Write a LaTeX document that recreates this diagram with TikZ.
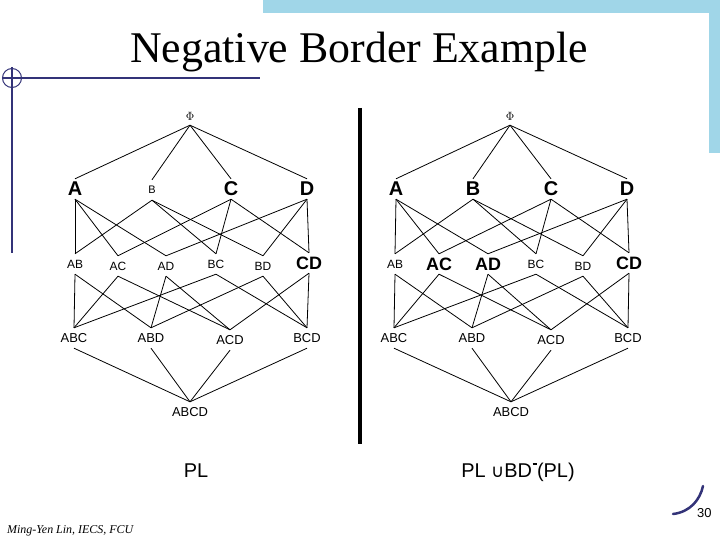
\documentclass[tikz,border=0pt]{standalone}
\usepackage{fontspec}
\setmainfont{Liberation Serif}
\newfontfamily\arial{Liberation Sans}
\newfontfamily\dejavu{DejaVu Sans}
\definecolor{bandblue}{RGB}{160,214,232}
\definecolor{darkblue}{RGB}{51,51,120}
\tikzset{
  lbl/.style={inner sep=0pt, minimum height=20bp, font=\arial\fontsize{12}{13}\selectfont},
  lblb/.style={inner sep=0pt, minimum height=20bp, font=\arial\bfseries\fontsize{20}{22}\selectfont},
  lblm/.style={inner sep=0pt, minimum height=20bp, font=\arial\bfseries\fontsize{18}{20}\selectfont},
  lbl3/.style={inner sep=0pt, minimum height=20bp, font=\arial\fontsize{13}{14}\selectfont},
  edge/.style={line width=0.8bp, black},
}
\begin{document}
\begin{tikzpicture}[x=1bp,y=-1bp]
\useasboundingbox (0,0) rectangle (720,540);
% decorations
\fill[bandblue] (263,0) rectangle (720,13);
\fill[bandblue] (709,0) rectangle (720,153);
\draw[darkblue, line width=2bp] (2,78) -- (260,78);
\draw[darkblue, line width=1bp] (12,78) circle (9.5);
\draw[darkblue, line width=1.2bp] (12,67) -- (12,253);
\draw[darkblue, line width=2.5bp, line cap=round] (673,514) .. controls (690,512) and (700,500) .. (703,486);
\node[anchor=base west, inner sep=0pt, font=\arial\fontsize{13}{14}\selectfont] (pg) at (697,517) {30};
\node[anchor=base west, inner sep=0pt, font=\itshape\fontsize{12}{13}\selectfont] (foot) at (7,533) {Ming-Yen Lin, IECS, FCU};
% title
\node[anchor=base, inner sep=0pt, font=\fontsize{44}{48}\selectfont] (title) at (359,63) {Negative Border Example};
% divider
\draw[black, line width=4bp] (360,108) -- (360,444);
% captions
\node[anchor=base, inner sep=0pt, font=\arial\fontsize{20}{22}\selectfont] (capL) at (196,477) {PL};
\node[anchor=base, inner sep=0pt, font=\arial\fontsize{20}{22}\selectfont] (capR) at (518,477) {PL {\dejavu\fontsize{18}{19}\selectfont ∪}BD\kern0.5bp\rule[12bp]{4bp}{1.6bp}\kern0.5bp(PL)};
% left lattice
\begin{scope}[name prefix=L-]
\node[inner sep=0pt, minimum height=18bp, font=\fontsize{12}{13}\selectfont] (P) at (190,116) {$\Phi$};
\node[lblb] (A) at (75,189) {A};
\node[lbl, font=\arial\fontsize{11}{12}\selectfont] (B) at (152,190) {B};
\node[lblb] (C) at (231,189) {C};
\node[lblb] (D) at (307,189) {D};
\node[lbl] (AB) at (75,264) {AB};
\node[lbl] (AC) at (118,266) {AC};
\node[lbl] (AD) at (166,266) {AD};
\node[lbl] (BC) at (216,264) {BC};
\node[lbl] (BD) at (263,266) {BD};
\node[lblm] (CD) at (309,263) {CD};
\node[lbl3] (ABC) at (74,338) {ABC};
\node[lbl3] (ABD) at (151,338) {ABD};
\node[lbl3] (ACD) at (230,340) {ACD};
\node[lbl3] (BCD) at (307,338) {BCD};
\node[lbl3] (ABCD) at (190,412) {ABCD};
\foreach \t in {A,B,C,D} \draw[edge] (P.south) -- (\t.north);
\foreach \s/\t in {A/AB,A/AC,A/AD,B/AB,B/BC,B/BD,C/AC,C/BC,C/CD,D/AD,D/BD,D/CD,
  AB/ABC,AB/ABD,AC/ABC,AC/ACD,AD/ABD,AD/ACD,BC/ABC,BC/BCD,BD/ABD,BD/BCD,CD/ACD,CD/BCD,
  ABC/ABCD,ABD/ABCD,ACD/ABCD,BCD/ABCD}
  \draw[edge] (\s.south) -- (\t.north);
\end{scope}
% right lattice
\begin{scope}[name prefix=R-]
\node[inner sep=0pt, minimum height=18bp, font=\fontsize{12}{13}\selectfont] (P) at (510,116) {$\Phi$};
\node[lblb] (A) at (396,189) {A};
\node[lblb] (B) at (473,189) {B};
\node[lblb] (C) at (551,189) {C};
\node[lblb] (D) at (627,189) {D};
\node[lbl] (AB) at (395,264) {AB};
\node[lblm] (AC) at (439,264) {AC};
\node[lblm] (AD) at (488,264) {AD};
\node[lbl] (BC) at (536,264) {BC};
\node[lbl] (BD) at (583,266) {BD};
\node[lblm] (CD) at (629,263) {CD};
\node[lbl3] (ABC) at (394,338) {ABC};
\node[lbl3] (ABD) at (472,338) {ABD};
\node[lbl3] (ACD) at (551,340) {ACD};
\node[lbl3] (BCD) at (628,338) {BCD};
\node[lbl3] (ABCD) at (511,412) {ABCD};
\foreach \t in {A,B,C,D} \draw[edge] (P.south) -- (\t.north);
\foreach \s/\t in {A/AB,A/AC,A/AD,B/AB,B/BC,B/BD,C/AC,C/BC,C/CD,D/AD,D/BD,D/CD,
  AB/ABC,AB/ABD,AC/ABC,AC/ACD,AD/ABD,AD/ACD,BC/ABC,BC/BCD,BD/ABD,BD/BCD,CD/ACD,CD/BCD,
  ABC/ABCD,ABD/ABCD,ACD/ABCD,BCD/ABCD}
  \draw[edge] (\s.south) -- (\t.north);
\end{scope}
\end{tikzpicture}
\end{document}
